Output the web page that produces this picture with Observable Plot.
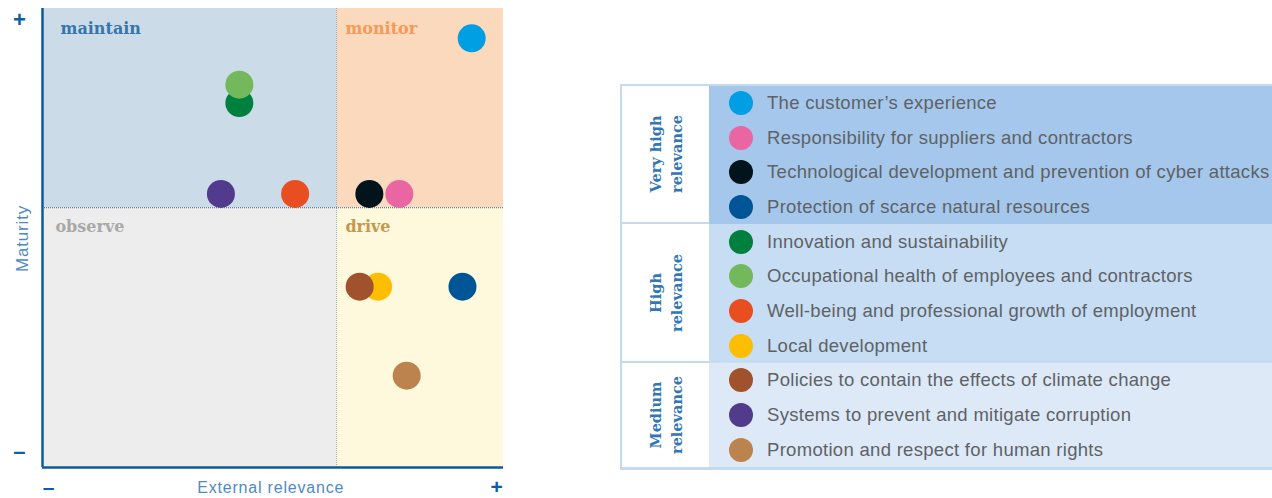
<!DOCTYPE html>
<html><head><meta charset="utf-8">
<script src="https://cdn.jsdelivr.net/npm/d3@7"></script>
<script src="https://cdn.jsdelivr.net/npm/@observablehq/plot@0.6"></script>
<style>
html,body{margin:0;padding:0;background:#fff;}
#wrap{position:relative;width:1272px;height:498px;overflow:hidden;}
#chart{position:absolute;left:0;top:0;}
#legend{position:absolute;left:620px;top:84px;width:720px;height:386px;background:#c4daf0;}
.grp{position:absolute;left:0;width:720px;}
.gl{position:absolute;left:2px;top:0;width:87px;background:#fff;}
.gr{position:absolute;left:89px;top:0;right:0;}
.glab{position:absolute;left:50%;top:50%;transform:translate(-50%,-50%) rotate(-90deg);white-space:nowrap;text-align:center;font-family:"DejaVu Serif",serif;font-weight:bold;font-size:14.5px;line-height:21px;color:#3176b6;}
.item{position:absolute;left:0;height:34.7px;display:flex;align-items:center;white-space:nowrap;}
.dot{position:absolute;left:109px;width:24px;height:24px;border-radius:50%;}
.txt{position:absolute;left:147px;font-family:"Liberation Sans",Arial,sans-serif;font-size:18.5px;letter-spacing:0.3px;color:#5e6266;}
</style></head><body><div id="wrap"><div id="chart"></div><div id="legend"></div></div>
<script>
const topics = [
  "The customer’s experience",
  "Responsibility for suppliers and contractors",
  "Technological development and prevention of cyber attacks",
  "Protection of scarce natural resources",
  "Innovation and sustainability",
  "Occupational health of employees and contractors",
  "Well-being and professional growth of employment",
  "Local development",
  "Policies to contain the effects of climate change",
  "Systems to prevent and mitigate corruption",
  "Promotion and respect for human rights"
];
const topicColors = ["#009fe3","#ea66a2","#02141b","#005597","#00803e","#74b85c","#e84e1f","#fdbd00","#a0522d","#523a8c","#bd834e"];
const externalRelevance = [93.1, 77.4, 70.9, 91.1, 42.7, 42.7, 54.8, 72.8, 68.8, 38.7, 79.0];
const maturity = [93.5, 59.6, 59.6, 39.4, 79.4, 83.4, 59.6, 39.4, 39.4, 59.6, 20.0];
const relevanceGroups = ["Very high|relevance", "High|relevance", "Medium|relevance"];
const groupSizes = [4, 4, 3];
const groupColors = ["#a4c7eb", "#c6ddf3", "#dde9f6"];
const quadrantNames = ["maintain", "monitor", "observe", "drive"];
const quadrantFills = ["#cbdce8", "#fad9bd", "#ededed", "#fef8dc"];
const quadrantTextColors = ["#3575ab", "#f39a5a", "#a8a8a8", "#c4994f"];
const xSplit = 63.8, ySplit = 56.6;

const data = topics.map((t, i) => ({topic: t, color: topicColors[i], x: externalRelevance[i], y: maturity[i]}));
const quads = [
  {x1: 0, x2: xSplit, y1: ySplit, y2: 100},
  {x1: xSplit, x2: 100, y1: ySplit, y2: 100},
  {x1: 0, x2: xSplit, y1: 0, y2: ySplit},
  {x1: xSplit, x2: 100, y1: 0, y2: ySplit}
].map((q, i) => ({...q, name: quadrantNames[i], fill: quadrantFills[i], tc: quadrantTextColors[i]}));
const quadLabelPos = [[3.9, 95.6], [65.7, 95.6], [2.8, 52.5], [65.7, 52.5]];
const quadLabels = quads.map((q, i) => ({name: q.name, tc: q.tc, x: quadLabelPos[i][0], y: quadLabelPos[i][1]}));
const signsLeft = [{t: "+", x: -5.0, y: 97.6}, {t: "–", x: -5.0, y: 3.4}];
const signsBottom = [{t: "–", x: 1.3, y: -4.3}, {t: "+", x: 98.5, y: -4.3}];

const chart = Plot.plot({
  width: 520, height: 498,
  marginLeft: 42, marginRight: 17, marginTop: 8, marginBottom: 31,
  x: {domain: [0, 100], axis: null},
  y: {domain: [0, 100], axis: null},
  color: {type: "identity"},
  style: {background: "transparent", overflow: "visible"},
  marks: [
    Plot.rect(quads, {x1: "x1", x2: "x2", y1: "y1", y2: "y2", fill: "fill"}),
    Plot.ruleX([xSplit], {stroke: "#86a9c6", strokeWidth: 1, strokeDasharray: "1,1"}),
    Plot.ruleY([ySplit], {stroke: "#2d6295", strokeWidth: 1, strokeDasharray: "1,1"}),
    Plot.ruleX([0], {stroke: "#0b5aa0", strokeWidth: 2.5}),
    Plot.ruleY([0], {stroke: "#0b5aa0", strokeWidth: 2.5}),
    Plot.text(quadLabels, {x: "x", y: "y", text: "name", fill: "tc", textAnchor: "start", fontFamily: "DejaVu Serif", fontWeight: "bold", fontSize: 16}),
    Plot.dot(data, {x: "x", y: "y", r: 14, fill: "color"}),
    Plot.text(signsLeft, {x: "x", y: "y", text: "t", fill: "#0d5ea6", fontSize: 22, fontWeight: "bold", fontFamily: "Liberation Sans"}),
    Plot.text(signsBottom, {x: "x", y: "y", text: "t", fill: "#0d5ea6", fontSize: 21, fontWeight: "bold", fontFamily: "Liberation Sans"}),
    Plot.text(["Maturity"], {x: -4.4, y: 49.9, rotate: -90, fill: "#4f8ac4", fontSize: 17, fontFamily: "Liberation Sans"}),
    Plot.text(["External relevance"], {x: 49.5, y: -4.4, fill: "#4f8ac4", fontSize: 16, fontFamily: "Liberation Sans"})
  ]
});
chart.querySelectorAll("text").forEach(t => {
  if (t.textContent === "External relevance" || t.textContent === "Maturity") t.setAttribute("letter-spacing", "0.8");
});
document.getElementById("chart").appendChild(chart);

// legend
const legendEl = document.getElementById("legend");
const pitch = 34.7;
let gTop = 1.5, idx = 0;
relevanceGroups.forEach((g, gi) => {
  const h = groupSizes[gi] * pitch;
  const grp = document.createElement("div");
  grp.className = "grp";
  grp.style.top = gTop + "px";
  grp.style.height = h + "px";
  const gl = document.createElement("div");
  gl.className = "gl";
  gl.style.height = (h - (gi < relevanceGroups.length - 1 ? 2 : 0)) + "px";
  const lab = document.createElement("div");
  lab.className = "glab";
  lab.innerHTML = g.split("|").join("<br>");
  gl.appendChild(lab);
  const gr = document.createElement("div");
  gr.className = "gr";
  gr.style.height = h + "px";
  gr.style.background = groupColors[gi];
  grp.appendChild(gr);
  grp.appendChild(gl);
  for (let k = 0; k < groupSizes[gi]; k++, idx++) {
    const it = document.createElement("div");
    it.className = "item";
    it.style.top = (k * pitch) + "px";
    it.style.width = "720px";
    const d = document.createElement("div");
    d.className = "dot";
    d.style.background = topicColors[idx];
    const tx = document.createElement("div");
    tx.className = "txt";
    tx.textContent = topics[idx];
    it.appendChild(d); it.appendChild(tx);
    grp.appendChild(it);
  }
  legendEl.appendChild(grp);
  gTop += h;
});
</script></body></html>
